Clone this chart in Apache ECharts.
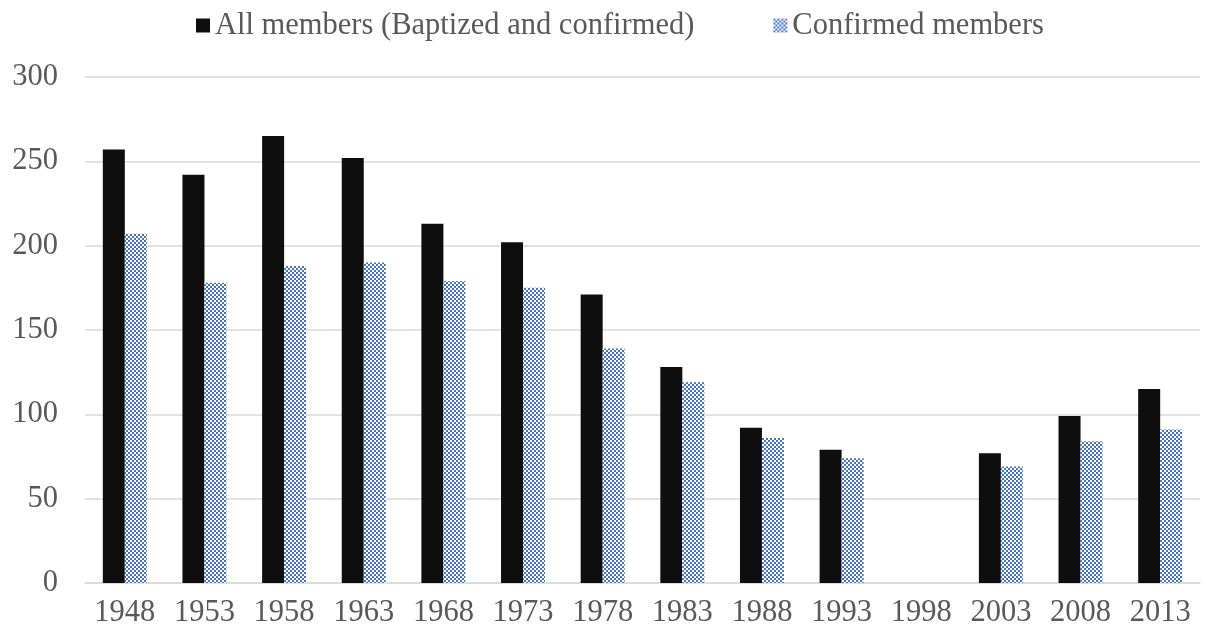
<!DOCTYPE html>
<html>
<head>
<meta charset="utf-8">
<script src="https://cdn.jsdelivr.net/npm/echarts@6/dist/echarts.min.js"></script>
<style>
html,body{margin:0;padding:0;background:#fff;}
#chart{width:1206px;height:639px;}
</style>
</head>
<body>
<div id="chart"></div>
<script>
const years = ['1948','1953','1958','1963','1968','1973','1978','1983','1988','1993','1998','2003','2008','2013'];
const allMembers = [257, 242, 265, 252, 213, 202, 171, 128, 92, 79, null, 77, 99, 115];
const confirmedMembers = [207, 178, 188, 190, 179, 175, 139, 119, 86, 74, null, 69, 84, 91];
const seriesNames = ['All members (Baptized and confirmed)', 'Confirmed members'];

function makePattern() {
  const c = document.createElement('canvas');
  c.width = 4; c.height = 4;
  const ctx = c.getContext('2d');
  ctx.fillStyle = '#ffffff';
  ctx.fillRect(0, 0, 4, 4);
  ctx.fillStyle = '#4472c4';
  ctx.fillRect(0, 0, 2, 2);
  ctx.fillRect(2, 2, 2, 2);
  return c;
}
const pat = makePattern();

const chart = echarts.init(document.getElementById('chart'), null, {renderer: 'canvas'});
const fontFam = '"Liberation Serif", "Times New Roman", serif';
chart.setOption({
  animation: false,
  backgroundColor: '#ffffff',
  textStyle: {fontFamily: fontFam},
  legend: {
    top: 5,
    left: 191,
    itemWidth: 14,
    itemHeight: 14,
    itemGap: 79,
    icon: 'rect',
    textStyle: {fontFamily: fontFam, fontSize: 30.5, color: '#595959'},
    data: seriesNames
  },
  grid: {left: 85, right: 6, top: 77, bottom: 56, containLabel: false},
  xAxis: {
    type: 'category',
    data: years,
    axisLine: {lineStyle: {color: '#d9d9d9', width: 1.5}},
    axisTick: {show: false},
    axisLabel: {fontFamily: fontFam, fontSize: 30.5, color: '#595959', margin: 14, interval: 0, hideOverlap: false}
  },
  yAxis: {
    type: 'value',
    min: 0, max: 300, interval: 50,
    axisLine: {show: false},
    axisTick: {show: false},
    splitLine: {lineStyle: {color: '#d9d9d9', width: 1.5}},
    axisLabel: {fontFamily: fontFam, fontSize: 30.5, color: '#595959', margin: 27}
  },
  series: [
    {
      name: seriesNames[0],
      type: 'bar',
      data: allMembers,
      barWidth: 22,
      barGap: '0%',
      itemStyle: {color: '#0e0e0e'}
    },
    {
      name: seriesNames[1],
      type: 'bar',
      data: confirmedMembers,
      barWidth: 22,
      itemStyle: {color: {image: pat, repeat: 'repeat'}}
    }
  ]
});
</script>
</body>
</html>
